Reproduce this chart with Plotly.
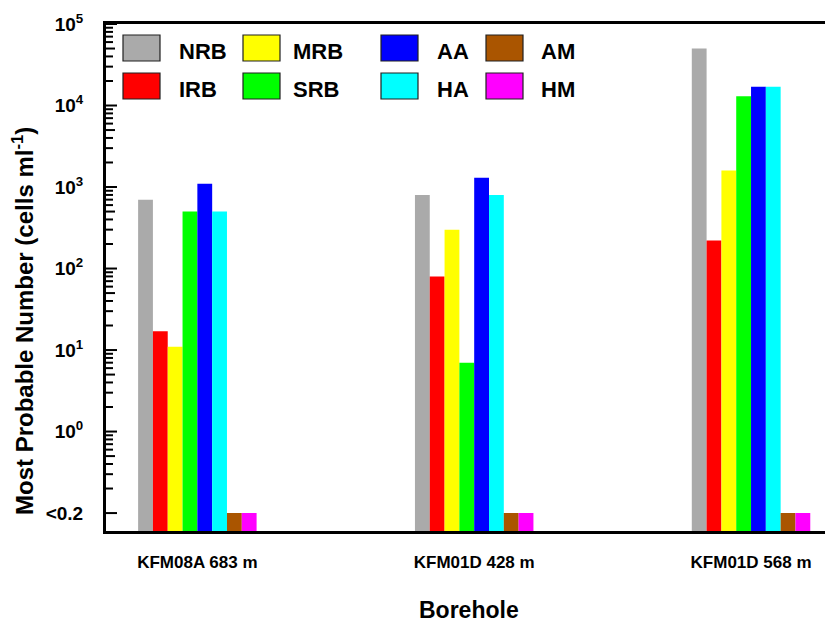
import math
import plotly.graph_objects as go

# ---------------- data ----------------
categories = ["KFM08A 683 m", "KFM01D 428 m", "KFM01D 568 m"]
series_names = ["NRB", "IRB", "MRB", "SRB", "AA", "HA", "AM", "HM"]
NRB = [700, 800, 50000]
IRB = [17, 80, 220]
MRB = [11, 300, 1600]
SRB = [500, 7, 13000]
AA = [1100, 1300, 17000]
HA = [500, 800, 17000]
AM = [0.1, 0.1, 0.1]   # below detection limit (<0.2)
HM = [0.1, 0.1, 0.1]   # below detection limit (<0.2)
series_values = [NRB, IRB, MRB, SRB, AA, HA, AM, HM]
series_colors = ["#aaaaaa", "#ff0000", "#ffff00", "#00ff00",
                 "#0000ff", "#00ffff", "#aa5500", "#ff00ff"]
y_tickvals = [0.1, 1, 10, 100, 1000, 10000, 100000]
y_ticktext = ["&lt;0.2", "10<sup>0</sup>", "10<sup>1</sup>", "10<sup>2</sup>",
              "10<sup>3</sup>", "10<sup>4</sup>", "10<sup>5</sup>"]

# ---------------- layout geometry ----------------
# the page adds an 8px body margin, so canvas coords = screen coords - 8
OFF = 8
W, H = 833, 623
ML, MR, MT, MB = 98, 0, 16, 100
PW, PH = W - ML - MR, H - MT - MB
FONT = "Arial, Liberation Sans, sans-serif"
yrange = [-1.22, 5.0]

def px_x(x):
    """screen x pixel -> paper coordinate"""
    return (x - OFF - ML) / PW

def px_y(y):
    """screen y pixel -> paper coordinate"""
    return (H - MB - (y - OFF)) / PH

def val_y(v):
    """log-axis value -> paper coordinate (for tick marks)"""
    return (math.log10(v) - yrange[0]) / (yrange[1] - yrange[0])

fig = go.Figure()
for name, vals, col in zip(series_names, series_values, series_colors):
    fig.add_trace(go.Bar(name=name, x=categories, y=vals,
                         marker=dict(color=col, line=dict(width=0)),
                         showlegend=False))

fig.update_layout(
    width=W, height=H,
    margin=dict(l=ML, r=MR, t=MT, b=MB),
    paper_bgcolor="white", plot_bgcolor="white",
    barmode="group", bargap=0.572, bargroupgap=0,
    font=dict(family=FONT, color="black"),
    xaxis=dict(type="category", range=[-0.33, 2.325],
               showline=True, linewidth=3, linecolor="black", mirror=True,
               ticks="", showgrid=False, zeroline=False,
               tickfont=dict(family=FONT, size=17, weight="bold"),
               ticklabelstandoff=14),
    yaxis=dict(type="log", range=yrange,
               showline=True, linewidth=3, linecolor="black", mirror=False,
               tickmode="array", tickvals=y_tickvals, ticktext=y_ticktext,
               ticks="", showgrid=False, zeroline=False,
               tickfont=dict(family=FONT, size=19, weight="bold"),
               ticklabelstandoff=16),
)

# tick marks (inside, on left axis and on the right frame edge)
minor_ticks = [m * 10 ** e for e in range(-1, 5) for m in range(2, 10)]
tick_specs = ([(v, 11) for v in y_tickvals] +
              [(v, 9 if round(v / 10 ** math.floor(math.log10(v))) == 5 else 7)
               for v in minor_ticks])
for v, ln in tick_specs:
    yp = val_y(v)
    for x_start, sign in ((0.0, 1), (1.0, -1)):
        fig.add_shape(type="line", xref="paper", yref="paper", layer="above",
                      x0=x_start, x1=x_start + sign * ln / PW, y0=yp, y1=yp,
                      line=dict(color="black", width=2))

# axis titles
fig.add_annotation(text="Most Probable Number (cells ml<sup>-1</sup>)",
                   xref="paper", yref="paper", x=px_x(23), y=px_y(321),
                   textangle=-90, showarrow=False,
                   font=dict(family=FONT, size=24, weight="bold"),
                   xanchor="center", yanchor="middle")
fig.add_annotation(text="Borehole", xref="paper", yref="paper",
                   x=px_x(469), y=px_y(610), showarrow=False,
                   font=dict(family=FONT, size=23, weight="bold"),
                   xanchor="center", yanchor="middle")

# custom legend (4 columns x 2 rows)
col_x = [123, 243, 381, 486]
text_x = [177, 291, 435, 539]
row_y = [35, 73]
sw_w, sw_h = 37, 26
for i, (name, col) in enumerate(zip(series_names, series_colors)):
    c, r = i // 2, i % 2
    cx = col_x[c]
    ry = row_y[r]
    fig.add_shape(type="rect", xref="paper", yref="paper",
                  x0=px_x(cx), x1=px_x(cx + sw_w), y0=px_y(ry + sw_h), y1=px_y(ry),
                  fillcolor=col, line=dict(color="#202020", width=1.2))
    fig.add_annotation(text=name, xref="paper", yref="paper",
                       x=px_x(text_x[c]), y=px_y(ry + sw_h / 2 + 3),
                       showarrow=False, xanchor="left", yanchor="middle",
                       font=dict(family=FONT, size=22, weight="bold"))

fig.write_html("out.html")
